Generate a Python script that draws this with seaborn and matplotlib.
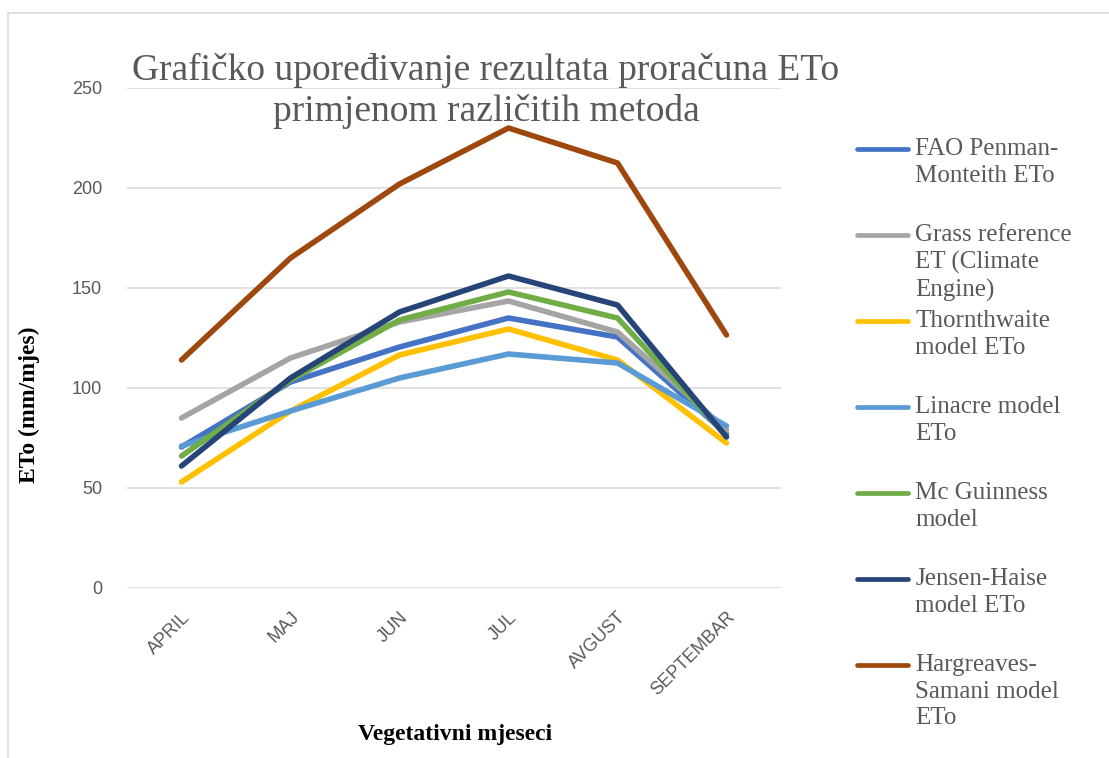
import seaborn as sns
import matplotlib.pyplot as plt
import matplotlib.transforms as mtransforms
from matplotlib.lines import Line2D
import pandas as pd

# data (mm/mjes)
months = ["APRIL", "MAJ", "JUN", "JUL", "AVGUST", "SEPTEMBAR"]
fao = [70.5, 103, 120.5, 135, 125.5, 77]
grass = [85, 115, 133, 143.5, 128, 79]
thornthwaite = [53, 88.5, 116.5, 129.5, 114, 72.5]
linacre = [71, 88.5, 105, 117, 112.5, 81]
mcguinness = [66, 104, 134, 148, 135, 76]
jensen = [61, 105, 138, 156, 141.5, 75.5]
hargreaves = [114, 165, 202, 230, 212.5, 126.5]

labels = ["FAO Penman-\nMonteith ETo", "Grass reference\nET (Climate\nEngine)",
          "Thornthwaite\nmodel ETo", "Linacre model\nETo", "Mc Guinness\nmodel",
          "Jensen-Haise\nmodel ETo", "Hargreaves-\nSamani model\nETo"]
series = [fao, grass, thornthwaite, linacre, mcguinness, jensen, hargreaves]
colors = ["#4472C4", "#A5A5A5", "#FFC000", "#5B9BD5", "#70AD47", "#264478", "#9E480E"]

rows = []
for lab, vals in zip(labels, series):
    for m, v in zip(months, vals):
        rows.append({"mjesec": m, "eto": v, "metoda": lab})
df = pd.DataFrame(rows)

sns.set_style("white")
plt.rcParams["font.family"] = ["Liberation Sans", "DejaVu Sans"]
serif = ["Liberation Serif", "DejaVu Serif"]
gray_txt = "#595959"

W, H = 1109, 758
fig = plt.figure(figsize=(W / 100, H / 100), dpi=100)
ax = fig.add_axes([127 / W, 1 - 588 / H, 654 / W, 500 / H])

sns.lineplot(data=df, x="mjesec", y="eto", hue="metoda", hue_order=labels,
             palette=dict(zip(labels, colors)), linewidth=4, sort=False,
             legend=False, ax=ax)
for ln in ax.lines:
    ln.set_solid_capstyle("round")
    ln.set_solid_joinstyle("round")

ax.set_xlim(-0.5, 5.5)
ax.set_ylim(0, 250)
ax.set_yticks(range(0, 251, 50))
ax.grid(axis="y", color="#D9D9D9", linewidth=1.1)
ax.set_axisbelow(True)
for s in ax.spines.values():
    s.set_visible(False)
ax.tick_params(length=0, labelsize=13, labelcolor=gray_txt)
ax.tick_params(axis="y", pad=18)

ax.set_xticks(range(len(months)))
ax.set_xticklabels(months, rotation=45, ha="right", va="center", rotation_mode="anchor")
off = mtransforms.ScaledTranslation(0.06, -0.22, fig.dpi_scale_trans)
for t in ax.get_xticklabels():
    t.set_transform(t.get_transform() + off)

ax.set_xlabel("Vegetativni mjeseci", fontsize=17, fontweight="bold", family=serif,
              color="black")
ax.xaxis.set_label_coords((455 - 127) / 654, -(724 - 588) / 500)
ax.set_ylabel("ETo (mm/mjes)", fontsize=17, fontweight="bold", family=serif,
              color="black")
ax.yaxis.set_label_coords(-(127 - 40) / 654, 0.5 - (405 - 338) / 500)

fig.text(486 / W, 1 - 91 / H,
         "Grafičko upoređivanje rezultata proračuna ETo\nprimjenom različitih metoda",
         ha="center", va="center", fontsize=27, family=serif, color=gray_txt,
         linespacing=1.2)

# legend, drawn like Excel: handle next to the first text line
for i, (lab, c) in enumerate(zip(labels, colors)):
    y = 1 - (149 + 86 * i) / H
    fig.add_artist(Line2D([857 / W, 908 / W], [y, y], transform=fig.transFigure,
                          color=c, linewidth=3.4, solid_capstyle="round"))
    fig.text(915 / W, 1 - (138 + 86 * i) / H, lab, ha="left", va="top",
             fontsize=18, family=serif, color=gray_txt, linespacing=1.27)

# chart area frame
fig.add_artist(Line2D([8 / W, 1], [1 - 13 / H] * 2, transform=fig.transFigure,
                      color="#D9D9D9", linewidth=1.2))
fig.add_artist(Line2D([8 / W] * 2, [0, 1 - 13 / H], transform=fig.transFigure,
                      color="#D9D9D9", linewidth=1.2))

fig.savefig("out.png", dpi=100)
